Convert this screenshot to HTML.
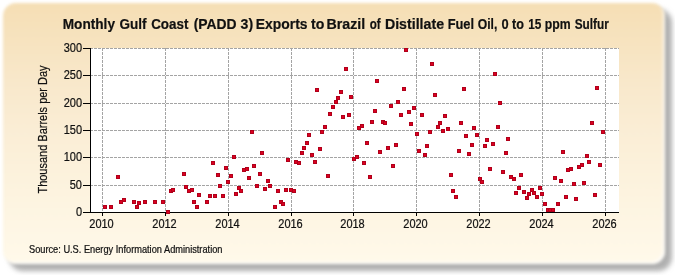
<!DOCTYPE html>
<html><head><meta charset="utf-8"><style>
html,body{margin:0;padding:0;background:#fff;width:675px;height:275px;overflow:hidden}
.shadow{position:absolute;left:9px;top:9px;width:663px;height:262px;border-radius:14px;background:#b0b0b0;filter:blur(2.5px)}
.panel{position:absolute;left:3px;top:3px;width:662px;height:261px;border-radius:13px;
background:linear-gradient(to bottom,rgb(245,222,180) 0%,rgb(248,232,203) 31%,rgb(250,237,213) 49%,rgb(252,242,221) 68%,rgb(255,249,234) 100%);box-shadow:inset -2px -2px 2px rgba(255,255,255,0.8);filter:blur(1.4px)}
svg{position:absolute;left:0;top:0;will-change:transform}
text{font-family:"Liberation Sans",sans-serif;fill:#111;stroke:#111;stroke-width:0.2px}
.tl{font-size:11px}
.title{font-size:14px;font-weight:bold;fill:#000;stroke:#000;stroke-width:0.3px}
.src{font-size:9.25px}
.yl{font-size:11px}
</style></head><body>
<div class="shadow"></div><div class="panel"></div>
<svg width="675" height="275" viewBox="0 0 675 275">
<rect x="90" y="48" width="529" height="164" fill="#fff"/><line x1="90" y1="185.5" x2="619" y2="185.5" stroke="#a4a4a4" stroke-dasharray="3 1"/><line x1="90" y1="157.5" x2="619" y2="157.5" stroke="#a4a4a4" stroke-dasharray="3 1"/><line x1="90" y1="130.5" x2="619" y2="130.5" stroke="#a4a4a4" stroke-dasharray="3 1"/><line x1="90" y1="103.5" x2="619" y2="103.5" stroke="#a4a4a4" stroke-dasharray="3 1"/><line x1="90" y1="75.5" x2="619" y2="75.5" stroke="#a4a4a4" stroke-dasharray="3 1"/><line x1="90" y1="48.5" x2="619" y2="48.5" stroke="#a4a4a4" stroke-dasharray="3 1"/><line x1="102.5" y1="48" x2="102.5" y2="212" stroke="#a4a4a4" stroke-dasharray="3 1"/><line x1="165.5" y1="48" x2="165.5" y2="212" stroke="#a4a4a4" stroke-dasharray="3 1"/><line x1="228.5" y1="48" x2="228.5" y2="212" stroke="#a4a4a4" stroke-dasharray="3 1"/><line x1="291.5" y1="48" x2="291.5" y2="212" stroke="#a4a4a4" stroke-dasharray="3 1"/><line x1="353.5" y1="48" x2="353.5" y2="212" stroke="#a4a4a4" stroke-dasharray="3 1"/><line x1="416.5" y1="48" x2="416.5" y2="212" stroke="#a4a4a4" stroke-dasharray="3 1"/><line x1="479.5" y1="48" x2="479.5" y2="212" stroke="#a4a4a4" stroke-dasharray="3 1"/><line x1="542.5" y1="48" x2="542.5" y2="212" stroke="#a4a4a4" stroke-dasharray="3 1"/><line x1="605.5" y1="48" x2="605.5" y2="212" stroke="#a4a4a4" stroke-dasharray="3 1"/><rect x="90" y="48" width="1" height="165" fill="#000"/><rect x="90" y="212" width="529" height="1" fill="#000"/><rect x="83" y="212" width="7" height="1" fill="#000"/><rect x="83" y="185" width="7" height="1" fill="#000"/><rect x="83" y="157" width="7" height="1" fill="#000"/><rect x="83" y="130" width="7" height="1" fill="#000"/><rect x="83" y="103" width="7" height="1" fill="#000"/><rect x="83" y="75" width="7" height="1" fill="#000"/><rect x="83" y="48" width="7" height="1" fill="#000"/><rect x="102" y="213" width="1" height="3" fill="#000"/><rect x="165" y="213" width="1" height="3" fill="#000"/><rect x="228" y="213" width="1" height="3" fill="#000"/><rect x="291" y="213" width="1" height="3" fill="#000"/><rect x="353" y="213" width="1" height="3" fill="#000"/><rect x="416" y="213" width="1" height="3" fill="#000"/><rect x="479" y="213" width="1" height="3" fill="#000"/><rect x="542" y="213" width="1" height="3" fill="#000"/><rect x="605" y="213" width="1" height="3" fill="#000"/>
<g fill="#dc0020" stroke="#b0001a" stroke-width="1"><rect x="103.5" y="205.5" width="3" height="3"/><rect x="109.5" y="205.5" width="3" height="3"/><rect x="116.5" y="175.5" width="3" height="3"/><rect x="119.5" y="200.5" width="3" height="3"/><rect x="122.5" y="198.5" width="3" height="3"/><rect x="132.5" y="200.5" width="3" height="3"/><rect x="135.5" y="205.5" width="3" height="3"/><rect x="137.5" y="201.5" width="3" height="3"/><rect x="143.5" y="200.5" width="3" height="3"/><rect x="153.5" y="200.5" width="3" height="3"/><rect x="161.5" y="200.5" width="3" height="3"/><rect x="166.5" y="210.5" width="3" height="3"/><rect x="169.5" y="189.5" width="3" height="3"/><rect x="171.5" y="188.5" width="3" height="3"/><rect x="182.5" y="172.5" width="3" height="3"/><rect x="184.5" y="185.5" width="3" height="3"/><rect x="187.5" y="189.5" width="3" height="3"/><rect x="190.5" y="188.5" width="3" height="3"/><rect x="192.5" y="200.5" width="3" height="3"/><rect x="195.5" y="205.5" width="3" height="3"/><rect x="197.5" y="193.5" width="3" height="3"/><rect x="205.5" y="200.5" width="3" height="3"/><rect x="208.5" y="194.5" width="3" height="3"/><rect x="211.5" y="161.5" width="3" height="3"/><rect x="213.5" y="194.5" width="3" height="3"/><rect x="216.5" y="173.5" width="3" height="3"/><rect x="218.5" y="184.5" width="3" height="3"/><rect x="221.5" y="194.5" width="3" height="3"/><rect x="224.5" y="166.5" width="3" height="3"/><rect x="226.5" y="180.5" width="3" height="3"/><rect x="229.5" y="174.5" width="3" height="3"/><rect x="232.5" y="155.5" width="3" height="3"/><rect x="234.5" y="192.5" width="3" height="3"/><rect x="237.5" y="186.5" width="3" height="3"/><rect x="239.5" y="189.5" width="3" height="3"/><rect x="242.5" y="168.5" width="3" height="3"/><rect x="245.5" y="167.5" width="3" height="3"/><rect x="247.5" y="176.5" width="3" height="3"/><rect x="250.5" y="130.5" width="3" height="3"/><rect x="252.5" y="164.5" width="3" height="3"/><rect x="255.5" y="184.5" width="3" height="3"/><rect x="258.5" y="172.5" width="3" height="3"/><rect x="260.5" y="151.5" width="3" height="3"/><rect x="263.5" y="187.5" width="3" height="3"/><rect x="266.5" y="179.5" width="3" height="3"/><rect x="268.5" y="184.5" width="3" height="3"/><rect x="273.5" y="205.5" width="3" height="3"/><rect x="276.5" y="189.5" width="3" height="3"/><rect x="279.5" y="200.5" width="3" height="3"/><rect x="281.5" y="202.5" width="3" height="3"/><rect x="284.5" y="188.5" width="3" height="3"/><rect x="286.5" y="158.5" width="3" height="3"/><rect x="289.5" y="188.5" width="3" height="3"/><rect x="292.5" y="189.5" width="3" height="3"/><rect x="294.5" y="160.5" width="3" height="3"/><rect x="297.5" y="161.5" width="3" height="3"/><rect x="300.5" y="151.5" width="3" height="3"/><rect x="302.5" y="146.5" width="3" height="3"/><rect x="305.5" y="141.5" width="3" height="3"/><rect x="307.5" y="133.5" width="3" height="3"/><rect x="310.5" y="153.5" width="3" height="3"/><rect x="313.5" y="160.5" width="3" height="3"/><rect x="315.5" y="88.5" width="3" height="3"/><rect x="318.5" y="147.5" width="3" height="3"/><rect x="320.5" y="130.5" width="3" height="3"/><rect x="323.5" y="125.5" width="3" height="3"/><rect x="326.5" y="174.5" width="3" height="3"/><rect x="328.5" y="112.5" width="3" height="3"/><rect x="331.5" y="105.5" width="3" height="3"/><rect x="334.5" y="100.5" width="3" height="3"/><rect x="336.5" y="96.5" width="3" height="3"/><rect x="339.5" y="90.5" width="3" height="3"/><rect x="341.5" y="115.5" width="3" height="3"/><rect x="344.5" y="67.5" width="3" height="3"/><rect x="347.5" y="113.5" width="3" height="3"/><rect x="349.5" y="95.5" width="3" height="3"/><rect x="352.5" y="157.5" width="3" height="3"/><rect x="355.5" y="155.5" width="3" height="3"/><rect x="357.5" y="126.5" width="3" height="3"/><rect x="360.5" y="124.5" width="3" height="3"/><rect x="362.5" y="161.5" width="3" height="3"/><rect x="365.5" y="141.5" width="3" height="3"/><rect x="368.5" y="175.5" width="3" height="3"/><rect x="370.5" y="120.5" width="3" height="3"/><rect x="373.5" y="109.5" width="3" height="3"/><rect x="375.5" y="79.5" width="3" height="3"/><rect x="378.5" y="150.5" width="3" height="3"/><rect x="381.5" y="120.5" width="3" height="3"/><rect x="383.5" y="121.5" width="3" height="3"/><rect x="386.5" y="146.5" width="3" height="3"/><rect x="389.5" y="104.5" width="3" height="3"/><rect x="391.5" y="164.5" width="3" height="3"/><rect x="394.5" y="143.5" width="3" height="3"/><rect x="396.5" y="100.5" width="3" height="3"/><rect x="399.5" y="113.5" width="3" height="3"/><rect x="402.5" y="87.5" width="3" height="3"/><rect x="404.5" y="48.5" width="3" height="3"/><rect x="407.5" y="110.5" width="3" height="3"/><rect x="409.5" y="122.5" width="3" height="3"/><rect x="412.5" y="106.5" width="3" height="3"/><rect x="415.5" y="132.5" width="3" height="3"/><rect x="417.5" y="149.5" width="3" height="3"/><rect x="420.5" y="113.5" width="3" height="3"/><rect x="423.5" y="153.5" width="3" height="3"/><rect x="425.5" y="144.5" width="3" height="3"/><rect x="428.5" y="130.5" width="3" height="3"/><rect x="430.5" y="62.5" width="3" height="3"/><rect x="433.5" y="93.5" width="3" height="3"/><rect x="436.5" y="125.5" width="3" height="3"/><rect x="438.5" y="121.5" width="3" height="3"/><rect x="441.5" y="129.5" width="3" height="3"/><rect x="443.5" y="114.5" width="3" height="3"/><rect x="446.5" y="127.5" width="3" height="3"/><rect x="449.5" y="173.5" width="3" height="3"/><rect x="451.5" y="189.5" width="3" height="3"/><rect x="454.5" y="195.5" width="3" height="3"/><rect x="457.5" y="149.5" width="3" height="3"/><rect x="459.5" y="121.5" width="3" height="3"/><rect x="462.5" y="87.5" width="3" height="3"/><rect x="464.5" y="134.5" width="3" height="3"/><rect x="467.5" y="152.5" width="3" height="3"/><rect x="470.5" y="143.5" width="3" height="3"/><rect x="472.5" y="126.5" width="3" height="3"/><rect x="475.5" y="133.5" width="3" height="3"/><rect x="478.5" y="177.5" width="3" height="3"/><rect x="480.5" y="180.5" width="3" height="3"/><rect x="483.5" y="144.5" width="3" height="3"/><rect x="485.5" y="138.5" width="3" height="3"/><rect x="488.5" y="167.5" width="3" height="3"/><rect x="491.5" y="142.5" width="3" height="3"/><rect x="493.5" y="72.5" width="3" height="3"/><rect x="496.5" y="125.5" width="3" height="3"/><rect x="498.5" y="101.5" width="3" height="3"/><rect x="501.5" y="170.5" width="3" height="3"/><rect x="504.5" y="151.5" width="3" height="3"/><rect x="506.5" y="137.5" width="3" height="3"/><rect x="509.5" y="175.5" width="3" height="3"/><rect x="512.5" y="177.5" width="3" height="3"/><rect x="514.5" y="191.5" width="3" height="3"/><rect x="517.5" y="186.5" width="3" height="3"/><rect x="519.5" y="173.5" width="3" height="3"/><rect x="522.5" y="190.5" width="3" height="3"/><rect x="525.5" y="196.5" width="3" height="3"/><rect x="527.5" y="192.5" width="3" height="3"/><rect x="530.5" y="188.5" width="3" height="3"/><rect x="532.5" y="191.5" width="3" height="3"/><rect x="535.5" y="195.5" width="3" height="3"/><rect x="538.5" y="186.5" width="3" height="3"/><rect x="540.5" y="192.5" width="3" height="3"/><rect x="543.5" y="202.5" width="3" height="3"/><rect x="546.5" y="208.5" width="3" height="3"/><rect x="548.5" y="208.5" width="3" height="3"/><rect x="551.5" y="208.5" width="3" height="3"/><rect x="553.5" y="176.5" width="3" height="3"/><rect x="556.5" y="202.5" width="3" height="3"/><rect x="559.5" y="179.5" width="3" height="3"/><rect x="561.5" y="150.5" width="3" height="3"/><rect x="564.5" y="195.5" width="3" height="3"/><rect x="566.5" y="168.5" width="3" height="3"/><rect x="569.5" y="167.5" width="3" height="3"/><rect x="572.5" y="182.5" width="3" height="3"/><rect x="574.5" y="197.5" width="3" height="3"/><rect x="577.5" y="165.5" width="3" height="3"/><rect x="580.5" y="163.5" width="3" height="3"/><rect x="582.5" y="181.5" width="3" height="3"/><rect x="585.5" y="154.5" width="3" height="3"/><rect x="587.5" y="160.5" width="3" height="3"/><rect x="590.5" y="121.5" width="3" height="3"/><rect x="593.5" y="193.5" width="3" height="3"/><rect x="595.5" y="86.5" width="3" height="3"/><rect x="598.5" y="163.5" width="3" height="3"/><rect x="601.5" y="130.5" width="3" height="3"/></g>
<text transform="translate(82,216) scale(1,1.15)" text-anchor="end" class="tl">0</text><text transform="translate(82,189) scale(1,1.15)" text-anchor="end" class="tl">50</text><text transform="translate(82,161) scale(1,1.15)" text-anchor="end" class="tl">100</text><text transform="translate(82,134) scale(1,1.15)" text-anchor="end" class="tl">150</text><text transform="translate(82,107) scale(1,1.15)" text-anchor="end" class="tl">200</text><text transform="translate(82,79) scale(1,1.15)" text-anchor="end" class="tl">250</text><text transform="translate(82,52) scale(1,1.15)" text-anchor="end" class="tl">300</text><text transform="translate(101.5,228) scale(1,1.15)" text-anchor="middle" class="tl">2010</text><text transform="translate(164.5,228) scale(1,1.15)" text-anchor="middle" class="tl">2012</text><text transform="translate(227.5,228) scale(1,1.15)" text-anchor="middle" class="tl">2014</text><text transform="translate(290.5,228) scale(1,1.15)" text-anchor="middle" class="tl">2016</text><text transform="translate(352.5,228) scale(1,1.15)" text-anchor="middle" class="tl">2018</text><text transform="translate(415.5,228) scale(1,1.15)" text-anchor="middle" class="tl">2020</text><text transform="translate(478.5,228) scale(1,1.15)" text-anchor="middle" class="tl">2022</text><text transform="translate(541.5,228) scale(1,1.15)" text-anchor="middle" class="tl">2024</text><text transform="translate(604.5,228) scale(1,1.15)" text-anchor="middle" class="tl">2026</text>
<g class="title"><text transform="translate(62.68,29) scale(0.975,1.06)">Monthly</text><text transform="translate(119.56,29) scale(0.967,1.06)">Gulf</text><text transform="translate(151.16,29) scale(0.958,1.06)">Coast</text><text transform="translate(193.65,29) scale(0.993,1.06)">(PADD</text><text transform="translate(240.55,29) scale(1.009,1.06)">3)</text><text transform="translate(255.86,29) scale(0.992,1.06)">Exports</text><text transform="translate(310.95,29) scale(1.008,1.06)">to</text><text transform="translate(326.53,29) scale(1.017,1.06)">Brazil</text><text transform="translate(369.71,29) scale(0.827,1.06)">of</text><text transform="translate(384.93,29) scale(1.014,1.06)">Distillate</text><text transform="translate(447.66,29) scale(0.92,1.06)">Fuel</text><text transform="translate(477.7,29) scale(0.869,1.06)">Oil,</text><text transform="translate(501.58,29) scale(0.918,1.06)">0</text><text transform="translate(512.08,29) scale(0.902,1.06)">to</text><text transform="translate(528.26,29) scale(0.846,1.06)">15</text><text transform="translate(544.82,29) scale(0.875,1.06)">ppm</text><text transform="translate(574.7,29) scale(0.844,1.06)">Sulfur</text></g>
<text transform="translate(29,253) scale(1,1.08)" class="src">Source: U.S. Energy Information Administration</text>
<text transform="translate(47,129.5) rotate(-90) scale(1,1.12)" text-anchor="middle" class="yl">Thousand Barrels per Day</text>
</svg>
</body></html>
